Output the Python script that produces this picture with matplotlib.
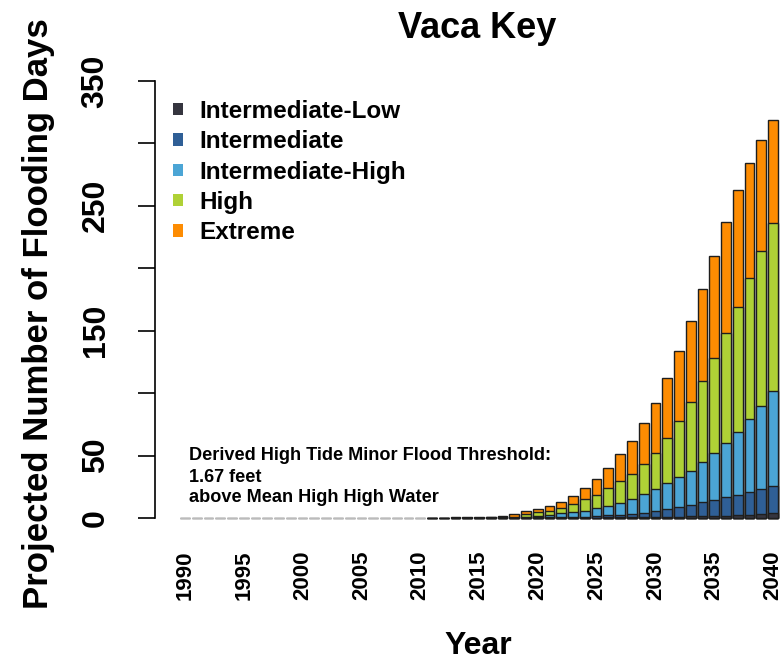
import matplotlib
matplotlib.use("Agg")
import matplotlib.pyplot as plt
from matplotlib.patches import Patch

plt.rcParams['font.family'] = ['Liberation Sans', 'DejaVu Sans']

# Years and projected flooding days for each scenario
years = list(range(1990, 2041))

extreme = [0, 0, 0, 0, 0, 0, 0, 0, 0, 0, 0, 0, 0, 0, 0, 0, 0, 0, 0, 0, 0,
           0.3, 0.4, 0.5, 0.6, 0.8, 1.0, 1.3, 3.5, 5.3, 7.0,
           9.6, 12.5, 17.5, 24, 31, 40, 51, 62, 76, 92,
           112, 134, 158, 183, 210, 237, 263, 284, 303, 319]
high = [0, 0, 0, 0, 0, 0, 0, 0, 0, 0, 0, 0, 0, 0, 0, 0, 0, 0, 0, 0, 0,
        0.2, 0.2, 0.3, 0.3, 0.4, 0.5, 0.6, 1.2, 3.5, 4.5,
        6.0, 8.0, 11.5, 15, 18.5, 24, 29.5, 35, 43, 52,
        64, 78, 93, 110, 128, 148, 169, 192, 214, 236]
int_high = [0, 0, 0, 0, 0, 0, 0, 0, 0, 0, 0, 0, 0, 0, 0, 0, 0, 0, 0, 0, 0,
            0.1, 0.1, 0.1, 0.2, 0.2, 0.2, 0.3, 0.4, 0.8, 1.5,
            2.5, 3.7, 4.5, 5.6, 7.7, 9.8, 12, 15.5, 19, 23,
            28, 33, 38, 45, 52, 60, 69, 79, 90, 102]
intermediate = [0, 0, 0, 0, 0, 0, 0, 0, 0, 0, 0, 0, 0, 0, 0, 0, 0, 0, 0, 0, 0,
                0.1, 0.1, 0.1, 0.1, 0.1, 0.2, 0.2, 0.3, 0.4, 0.5,
                0.6, 0.8, 1.0, 1.2, 1.6, 2.2, 2.8, 3.4, 4.4, 5.8,
                7.3, 9.0, 10.8, 12.5, 14.3, 16.5, 18.2, 20.6, 23, 26]
int_low = [0, 0, 0, 0, 0, 0, 0, 0, 0, 0, 0, 0, 0, 0, 0, 0, 0, 0, 0, 0, 0,
           0.1, 0.1, 0.1, 0.1, 0.1, 0.1, 0.1, 0.1, 0.2, 0.2,
           0.2, 0.2, 0.3, 0.3, 0.4, 0.5, 0.6, 0.7, 0.8, 0.9,
           1.0, 1.2, 1.3, 1.5, 1.7, 1.9, 2.2, 2.6, 3.2, 4.3]

labels = ["Intermediate-Low", "Intermediate", "Intermediate-High", "High", "Extreme"]
colors = ["#35353f", "#2f5f96", "#4ba5d5", "#afd136", "#fd8c02"]

fig = plt.figure(figsize=(7.82, 6.66), dpi=100)
ax = fig.add_axes([155 / 782, 1 - 530 / 666, 626 / 782, 460 / 666])

# edge colour: light grey where nothing is projected
edges = ["#bbbbbb" if e == 0 else "#1e1e1e" for e in extreme]

# tallest scenario at the back, smaller ones drawn over it
series = [int_low, intermediate, int_high, high, extreme]
for vals, col in zip(series[::-1], colors[::-1]):
    ax.bar(years, vals, width=0.83, color=col, edgecolor=edges, linewidth=1.0)

ax.set_xlim(1987.45, 2040.68)
ax.set_ylim(-9.6, 358.7)

for s in ["top", "right", "bottom"]:
    ax.spines[s].set_visible(False)
ax.spines["left"].set_bounds(0, 350)
ax.spines["left"].set_linewidth(1.2)

ax.set_yticks(range(0, 351, 50))
ax.set_yticklabels(["0", "50", "", "150", "", "250", "", "350"],
                   rotation=90, va="center", fontweight="bold")
ax.tick_params(axis="y", length=12, width=1.2, pad=20, labelsize=23)

ax.set_xticks(range(1990, 2041, 5))
ax.set_xticklabels([str(y) for y in range(1990, 2041, 5)], rotation=90,
                   fontweight="bold")
ax.tick_params(axis="x", length=0, pad=15, labelsize=16)

handles = [Patch(facecolor=c, edgecolor="none") for c in colors]
ax.legend(handles, labels, loc="upper left", bbox_to_anchor=(173 / 782, 1 - 100 / 666),
          bbox_transform=fig.transFigure, frameon=False, borderpad=0, borderaxespad=0,
          handlelength=0.4, handleheight=0.4, handletextpad=0.7, labelspacing=0.3,
          prop={"size": 17.5, "weight": "bold"})

note = ["Derived High Tide Minor Flood Threshold:", "1.67 feet", "above Mean High High Water"]
for line, yb in zip(note, [460, 482, 502]):
    fig.text(189 / 782, 1 - yb / 666, line, fontsize=13.1, fontweight="bold", va="baseline")

fig.text(477 / 782, 1 - 28 / 666, "Vaca Key", ha="center", va="center",
         fontsize=26, fontweight="bold")
fig.text(478 / 782, 1 - 654 / 666, "Year", ha="center", va="baseline",
         fontsize=23, fontweight="bold")
fig.text(39 / 782, 1 - 314 / 666, "Projected Number of Flooding Days", rotation=90,
         ha="center", va="center", fontsize=25, fontweight="bold")

fig.savefig("out.png", dpi=100)
